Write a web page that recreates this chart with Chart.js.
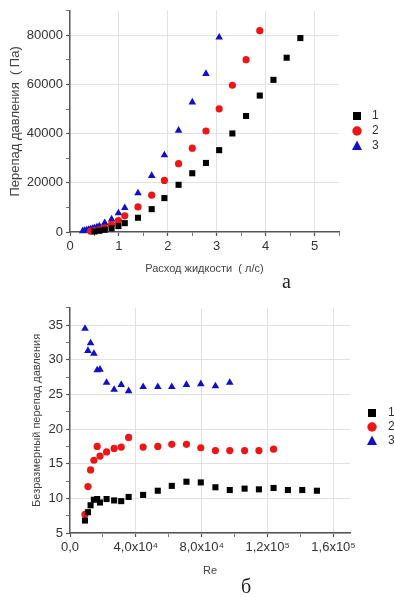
<!DOCTYPE html>
<html>
<head>
<meta charset="utf-8">
<script src="https://cdn.jsdelivr.net/npm/chart.js"></script>
<style>
  body { margin: 0; background: #fff; }
  #page { position: relative; width: 394px; height: 597px; overflow: hidden; }
  canvas { position: absolute; left: 0; }
  #chartA { top: 0; }
  #chartB { top: 297px; }
  .tag { position: absolute; font-family: "Liberation Serif", serif; font-size: 20px; color: #222; }
</style>
</head>
<body>
<div id="page">
  <canvas id="chartA" width="394" height="300"></canvas>
  <canvas id="chartB" width="394" height="300"></canvas>
  <div class="tag" style="left:282px; top:270px;">a</div>
  <div class="tag" style="left:241px; top:575px;">б</div>
</div>
<script>
// chart a: pressure drop vs flow rate
const flow1 = [0.5, 0.6, 0.71, 0.85, 0.99, 1.12, 1.39, 1.67, 1.93, 2.22, 2.5, 2.78, 3.05, 3.32, 3.6, 3.88, 4.16, 4.43, 4.71];
const dp1 = [200, 500, 900, 1500, 2400, 3600, 5800, 9300, 13800, 19200, 23900, 28100, 33300, 40100, 47200, 55500, 61900, 70900, 78900];
const flow2 = [0.42, 0.5, 0.6, 0.71, 0.85, 0.99, 1.12, 1.39, 1.67, 1.93, 2.22, 2.5, 2.78, 3.05, 3.32, 3.6, 3.88];
const dp2 = [300, 600, 1000, 1700, 3100, 4600, 6600, 10200, 15000, 21000, 27800, 34100, 41100, 50100, 59700, 70100, 81900];
const flow3 = [0.26, 0.3, 0.34, 0.38, 0.42, 0.46, 0.5, 0.55, 0.6, 0.71, 0.85, 0.99, 1.12, 1.39, 1.67, 1.93, 2.22, 2.5, 2.78, 3.05];
const dp3 = [400, 600, 800, 1000, 1200, 1400, 1700, 2000, 2400, 3700, 5200, 7700, 9800, 15800, 22900, 31300, 41300, 52800, 64400, 79200];

// chart б: dimensionless pressure drop vs Re
const re = [9100, 10900, 12500, 14500, 16500, 18200, 22200, 26800, 31100, 35600, 44400, 53300, 61800, 70700, 79400, 88300, 97000, 106000, 114700, 123600, 132300, 141000, 149900];
const dimless1 = [6.8, 8.0, 9.0, 9.8, 9.9, 9.4, 9.9, 9.7, 9.6, 10.2, 10.5, 11.1, 11.8, 12.4, 12.3, 11.6, 11.2, 11.4, 11.3, 11.5, 11.2, 11.2, 11.1];
const dimless2 = [7.7, 11.7, 14.1, 15.5, 17.5, 16.1, 16.7, 17.2, 17.4, 18.8, 17.4, 17.5, 17.8, 17.8, 17.3, 16.9, 16.9, 16.9, 16.9, 17.1];
const dimless3 = [34.5, 31.3, 32.4, 30.9, 28.5, 28.6, 26.7, 25.7, 26.4, 25.5, 26.1, 26.1, 26.1, 26.4, 26.5, 26.2, 26.7];

const seriesNames = ["1", "2", "3"];
const reTickValues = [0, 40000, 80000, 120000, 160000];
const reTickLabels = ["0,0", "4,0x10⁴", "8,0x10⁴", "1,2x10⁵", "1,6x10⁵"];

const BLACK = "#000000";
const RED = "#ee1515";
const BLUE = "#1010c8";
const FONT = "'Liberation Sans', Arial, sans-serif";

function pts(xs, ys) {
  return ys.map((y, i) => ({ x: xs[i], y: y }));
}

function range(from, to, step) {
  const out = [];
  for (let v = from; v <= to + 1e-9; v += step) out.push(Math.round(v * 1000) / 1000);
  return out;
}

// legend drawn by hand so it can sit where the original has it
const markerLegend = {
  id: "markerLegend",
  afterDraw(chart, args, opts) {
    const ctx = chart.ctx;
    ctx.save();
    chart.data.datasets.forEach((ds, i) => {
      const x = opts.x;
      const y = opts.y + i * opts.gap;
      ctx.fillStyle = ds.backgroundColor;
      ctx.beginPath();
      if (ds.pointStyle === "rect") {
        ctx.rect(x - 4, y - 4, 8, 8);
      } else if (ds.pointStyle === "circle") {
        ctx.arc(x, y, 4.7, 0, Math.PI * 2);
      } else {
        ctx.moveTo(x, y - 5.5);
        ctx.lineTo(x + 5, y + 4);
        ctx.lineTo(x - 5, y + 4);
        ctx.closePath();
      }
      ctx.fill();
      ctx.fillStyle = "#333";
      ctx.font = "12px " + FONT;
      ctx.textBaseline = "middle";
      ctx.textAlign = "left";
      ctx.fillText(ds.label, opts.labelX, y);
    });
    ctx.restore();
  }
};

function dataset(label, data, style, color, radius) {
  return {
    label: label,
    data: data,
    pointStyle: style,
    backgroundColor: color,
    borderColor: color,
    borderWidth: 0,
    pointRadius: radius,
    pointHoverRadius: radius,
    showLine: false,
    clip: false
  };
}

function axis(min, max, ticks, isMajor, label, title, fit) {
  return {
    type: "linear",
    min: min,
    max: max,
    afterBuildTicks: (s) => { s.ticks = ticks.map((v) => ({ value: v })); },
    afterFit: fit,
    border: { display: true, color: "#555", width: 1.5 },
    grid: {
      drawTicks: true,
      tickLength: 4,
      color: (c) => (c.tick && isMajor(c.tick.value) && c.tick.value !== 0 ? "#e2e2e2" : "rgba(0,0,0,0)"),
      tickColor: "#555",
      tickWidth: (c) => (c.tick && isMajor(c.tick.value) ? 1.2 : 0.8)
    },
    ticks: {
      autoSkip: false,
      maxRotation: 0,
      padding: 3,
      color: "#333",
      font: { family: FONT, size: 13 },
      callback: (v) => (isMajor(v) ? label(v) : "")
    },
    title: title
  };
}

new Chart(document.getElementById("chartA"), {
  type: "scatter",
  data: {
    datasets: [
      dataset(seriesNames[0], pts(flow1, dp1), "rect", BLACK, 4.3),
      dataset(seriesNames[1], pts(flow2, dp2), "circle", RED, 3.6),
      dataset(seriesNames[2], pts(flow3, dp3), "triangle", BLUE, 4.4)
    ]
  },
  options: {
    responsive: false,
    animation: false,
    layout: { padding: { top: 5, right: 55, left: 0, bottom: 0 } },
    plugins: {
      legend: { display: false },
      tooltip: { enabled: false },
      markerLegend: { x: 357, y: 116, gap: 15, labelX: 372 }
    },
    scales: {
      x: axis(0, 5.5, range(0, 5.5, 0.5), (v) => Number.isInteger(v), (v) => String(v),
        { display: true, text: "Расход жидкости  ( л/с)", color: "#444", font: { family: FONT, size: 11 }, padding: { top: 0, bottom: 24 } },
        (s) => { s.height = 68; }),
      y: axis(0, 90000, range(0, 90000, 10000), (v) => v % 20000 === 0, (v) => String(v),
        { display: true, text: "Перепад давления  ( Па)", color: "#444", font: { family: FONT, size: 13 }, padding: { top: 8, bottom: 0 } },
        (s) => { s.width = 70; })
    }
  },
  plugins: [markerLegend]
});

new Chart(document.getElementById("chartB"), {
  type: "scatter",
  data: {
    datasets: [
      dataset(seriesNames[0], pts(re, dimless1), "rect", BLACK, 4.3),
      dataset(seriesNames[1], pts(re, dimless2), "circle", RED, 3.6),
      dataset(seriesNames[2], pts(re, dimless3), "triangle", BLUE, 4.4)
    ]
  },
  options: {
    responsive: false,
    animation: false,
    layout: { padding: { top: 8, right: 44, left: 0, bottom: 0 } },
    plugins: {
      legend: { display: false },
      tooltip: { enabled: false },
      markerLegend: { x: 372, y: 116, gap: 14, labelX: 388 }
    },
    scales: {
      x: axis(0, 170000, range(0, 160000, 20000), (v) => v % 40000 === 0,
        (v) => reTickLabels[reTickValues.indexOf(v)],
        { display: true, text: "Re", color: "#444", font: { family: FONT, size: 11 }, padding: { top: 0, bottom: 19 } },
        (s) => { s.height = 64; }),
      y: axis(5, 37.5, range(5, 37.5, 2.5), (v) => v % 5 === 0, (v) => String(v),
        { display: true, text: "Безразмерный перепад давления", color: "#444", font: { family: FONT, size: 11 }, padding: { top: 30, bottom: 0 } },
        (s) => { s.width = 70; })
    }
  },
  plugins: [markerLegend]
});
</script>
</body>
</html>
